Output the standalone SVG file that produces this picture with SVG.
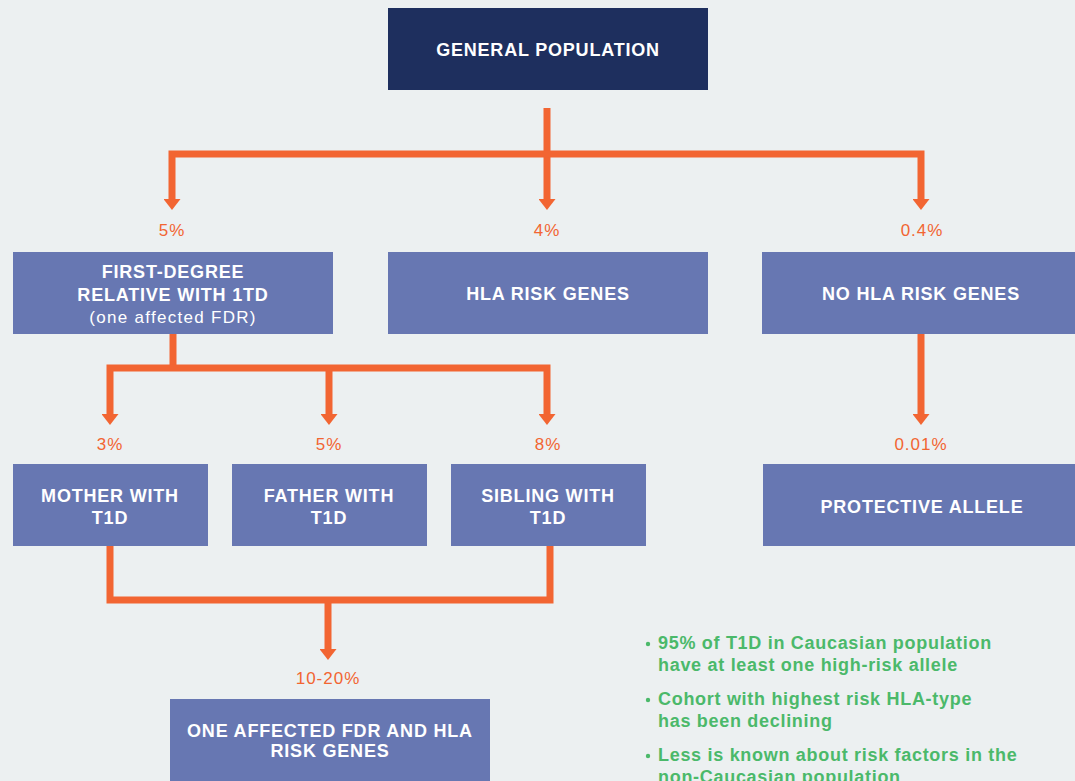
<svg xmlns="http://www.w3.org/2000/svg" width="1075" height="781" viewBox="0 0 1075 781">
<style>
.bg{fill:#ecf0f1}
.navy{fill:#1e2f5e}
.box{fill:#6777b2}
.t{font-family:"Liberation Sans",Arial,sans-serif;font-weight:700;font-size:18px;letter-spacing:0.8px;fill:#ffffff;text-anchor:middle}
.s{font-family:"Liberation Sans",Arial,sans-serif;font-weight:400;font-size:17px;letter-spacing:1.3px;fill:#ffffff;text-anchor:middle}
.p{font-family:"Liberation Sans",Arial,sans-serif;font-weight:400;font-size:17px;letter-spacing:1px;fill:#f26532;text-anchor:middle}
.g{font-family:"Liberation Sans",Arial,sans-serif;font-weight:700;font-size:18px;letter-spacing:0.7px;fill:#4bb96a}
.c{fill:none;stroke:#f26532;stroke-width:7;stroke-linejoin:miter}
</style>
<defs>
<marker id="ah" viewBox="0 0 11 17" refX="0" refY="8.5" markerWidth="11" markerHeight="17" markerUnits="userSpaceOnUse" orient="auto-start-reverse">
<path d="M0,0 L11,8.5 L0,17 z" fill="#f26532"/>
</marker>
</defs>
<rect class="bg" x="0" y="0" width="1075" height="781"/>
<g id="connectors">
<path class="c" d="M547,108 V199" marker-end="url(#ah)"/>
<path class="c" d="M172,199 V154 H921 V199" marker-start="url(#ah)" marker-end="url(#ah)"/>
<path class="c" d="M173,334 V368"/>
<path class="c" d="M110,414 V368 H547 V414" marker-start="url(#ah)" marker-end="url(#ah)"/>
<path class="c" d="M329,368 V414" marker-end="url(#ah)"/>
<path class="c" d="M921,334 V414" marker-end="url(#ah)"/>
<path class="c" d="M110,546 V600 H550 V546"/>
<path class="c" d="M328,600 V649" marker-end="url(#ah)"/>
</g>
<g id="labels">
<text class="p" x="172" y="236">5%</text>
<text class="p" x="547" y="236">4%</text>
<text class="p" x="922" y="236">0.4%</text>
<text class="p" x="110" y="450">3%</text>
<text class="p" x="329" y="450">5%</text>
<text class="p" x="548" y="450">8%</text>
<text class="p" x="921" y="450">0.01%</text>
<text class="p" x="328" y="684">10-20%</text>
</g>
<g id="general-population">
<rect class="navy" x="388" y="8" width="320" height="82"/>
<text class="t" x="548" y="56">GENERAL POPULATION</text>
</g>
<g id="first-degree">
<rect class="box" x="13" y="252" width="320" height="82"/>
<text class="t" x="173" y="278">FIRST-DEGREE</text>
<text class="t" x="173" y="301">RELATIVE WITH 1TD</text>
<text class="s" x="173" y="323">(one affected FDR)</text>
</g>
<g id="hla-risk-genes">
<rect class="box" x="388" y="252" width="320" height="82"/>
<text class="t" x="548" y="300">HLA RISK GENES</text>
</g>
<g id="no-hla-risk-genes">
<rect class="box" x="762" y="252" width="313" height="82"/>
<text class="t" x="921" y="300">NO HLA RISK GENES</text>
</g>
<g id="mother">
<rect class="box" x="13" y="464" width="195" height="82"/>
<text class="t" x="110" y="502">MOTHER WITH</text>
<text class="t" x="110" y="524">T1D</text>
</g>
<g id="father">
<rect class="box" x="232" y="464" width="195" height="82"/>
<text class="t" x="329" y="502">FATHER WITH</text>
<text class="t" x="329" y="524">T1D</text>
</g>
<g id="sibling">
<rect class="box" x="451" y="464" width="195" height="82"/>
<text class="t" x="548" y="502">SIBLING WITH</text>
<text class="t" x="548" y="524">T1D</text>
</g>
<g id="protective-allele">
<rect class="box" x="763" y="464" width="312" height="82"/>
<text class="t" x="922" y="513">PROTECTIVE ALLELE</text>
</g>
<g id="one-affected-fdr-hla">
<rect class="box" x="170" y="699" width="320" height="90"/>
<text class="t" x="330" y="737">ONE AFFECTED FDR AND HLA</text>
<text class="t" x="330" y="757">RISK GENES</text>
</g>
<g id="notes">
<circle cx="648" cy="644" r="2.2" fill="#4bb96a"/>
<text class="g" x="658" y="649">95% of T1D in Caucasian population</text>
<text class="g" x="658" y="671">have at least one high-risk allele</text>
<circle cx="648" cy="700" r="2.2" fill="#4bb96a"/>
<text class="g" x="658" y="705">Cohort with highest risk HLA-type</text>
<text class="g" x="658" y="727">has been declining</text>
<circle cx="648" cy="756" r="2.2" fill="#4bb96a"/>
<text class="g" x="658" y="761">Less is known about risk factors in the</text>
<text class="g" x="658" y="783">non-Caucasian population</text>
</g>
</svg>
